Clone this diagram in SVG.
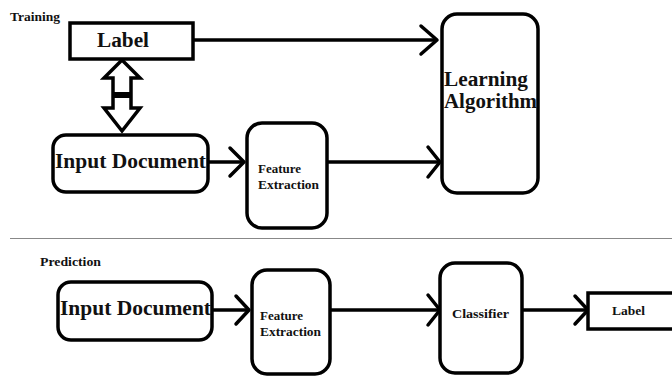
<svg xmlns="http://www.w3.org/2000/svg" width="672" height="376" viewBox="0 0 672 376">
<style>
.box{fill:#fff;stroke:#000;stroke-width:3.5}
.t{font-family:"Liberation Serif","Times New Roman",serif;font-weight:bold;fill:#111}
.ln{stroke:#000;stroke-width:3.5;fill:none}
.hd{stroke:#000;stroke-width:3.5;fill:none;stroke-linecap:round;stroke-linejoin:round}
</style>
<rect width="672" height="376" fill="#fff"/>
<text class="t" x="10" y="21" font-size="12" textLength="50" lengthAdjust="spacingAndGlyphs">Training</text>
<text class="t" x="40" y="266" font-size="12" textLength="61" lengthAdjust="spacingAndGlyphs">Prediction</text>
<line x1="10" y1="238.5" x2="672" y2="238.5" stroke="#888" stroke-width="1.2"/>

<g id="connectors">
  <line class="ln" x1="193" y1="40" x2="437" y2="40"/>
  <polyline class="hd" points="421,26 437,40 421,54"/>
  <line class="ln" x1="208" y1="162" x2="244" y2="162"/>
  <polyline class="hd" points="230,148 244,162 230,176"/>
  <line class="ln" x1="327" y1="162" x2="440" y2="162"/>
  <polyline class="hd" points="428,147 440,162 428,177"/>
  <line class="ln" x1="212" y1="310" x2="249" y2="310"/>
  <polyline class="hd" points="236,296 249,310 236,324"/>
  <line class="ln" x1="330" y1="310" x2="440" y2="310"/>
  <polyline class="hd" points="428,295 440,310 428,325"/>
  <line class="ln" x1="522" y1="310" x2="588" y2="310"/>
  <polyline class="hd" points="575,296 588,310 575,324"/>
  <g id="double-arrow">
    <polygon points="122,60 140,78 131,78 131,108 140,108 122,131 104,108 113,108 113,78 104,78" fill="#fff" stroke="#000" stroke-width="3.5" stroke-linejoin="miter"/>
    <rect x="113" y="92" width="18" height="6" fill="#000"/>
  </g>
</g>

<g id="label-train">
  <rect class="box" x="70" y="23" width="123" height="36"/>
  <text class="t" x="97" y="47" font-size="20" textLength="52" lengthAdjust="spacingAndGlyphs">Label</text>
</g>
<g id="input-train">
  <rect class="box" x="53" y="135" width="155" height="57" rx="13"/>
  <text class="t" x="55" y="168" font-size="21" textLength="151" lengthAdjust="spacingAndGlyphs">Input Document</text>
</g>
<g id="feature-train">
  <rect class="box" x="247" y="123" width="80" height="105" rx="15"/>
  <text class="t" x="258" y="173" font-size="12.5" textLength="43" lengthAdjust="spacingAndGlyphs">Feature</text>
  <text class="t" x="258" y="189" font-size="12.5" textLength="61" lengthAdjust="spacingAndGlyphs">Extraction</text>
</g>
<g id="learning">
  <rect class="box" x="442" y="14" width="96" height="179" rx="15"/>
  <text class="t" x="444" y="86" font-size="20" textLength="84" lengthAdjust="spacingAndGlyphs">Learning</text>
  <text class="t" x="444" y="108" font-size="20" textLength="93" lengthAdjust="spacingAndGlyphs">Algorithm</text>
</g>
<g id="input-pred">
  <rect class="box" x="58" y="282" width="154" height="58" rx="13"/>
  <text class="t" x="60" y="315" font-size="21" textLength="151" lengthAdjust="spacingAndGlyphs">Input Document</text>
</g>
<g id="feature-pred">
  <rect class="box" x="252" y="270" width="78" height="104" rx="15"/>
  <text class="t" x="260" y="320" font-size="12.5" textLength="43" lengthAdjust="spacingAndGlyphs">Feature</text>
  <text class="t" x="260" y="336" font-size="12.5" textLength="61" lengthAdjust="spacingAndGlyphs">Extraction</text>
</g>
<g id="classifier">
  <rect class="box" x="440" y="263" width="82" height="110" rx="15"/>
  <text class="t" x="452" y="318" font-size="12.5" textLength="57" lengthAdjust="spacingAndGlyphs">Classifier</text>
</g>
<g id="label-pred">
  <rect class="box" x="588" y="293" width="90" height="36"/>
  <text class="t" x="612" y="315" font-size="12.5" textLength="33" lengthAdjust="spacingAndGlyphs">Label</text>
</g>
</svg>
